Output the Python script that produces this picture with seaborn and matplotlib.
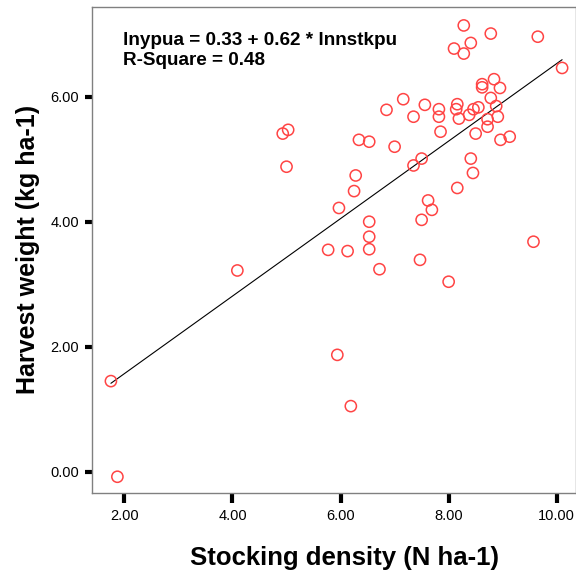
import matplotlib
matplotlib.use("Agg")
import matplotlib.pyplot as plt
import seaborn as sns
import pandas as pd
import numpy as np

stocking = [1.75, 1.87, 4.09, 4.93, 5.03, 5.00, 5.77, 5.94, 6.19, 5.97,
            6.13, 6.25, 6.28, 6.34, 6.53, 6.53, 6.53, 6.53, 6.72, 6.85,
            7.00, 7.16, 7.35, 7.35, 7.47, 7.50, 7.50, 7.56, 7.62, 7.69,
            7.82, 7.82, 7.85, 8.00, 8.10, 8.14, 8.16, 8.16, 8.19, 8.28,
            8.28, 8.38, 8.41, 8.41, 8.45, 8.46, 8.50, 8.55, 8.62, 8.62,
            8.72, 8.72, 8.78, 8.78, 8.84, 8.88, 8.91, 8.95, 8.96, 9.13,
            9.57, 9.65, 10.10]
harvest = [1.45, -0.08, 3.22, 5.41, 5.47, 4.88, 3.55, 1.87, 1.05, 4.22,
           3.53, 4.49, 4.74, 5.31, 5.28, 4.00, 3.76, 3.56, 3.24, 5.79,
           5.20, 5.96, 5.68, 4.90, 3.39, 4.03, 5.01, 5.87, 4.34, 4.19,
           5.80, 5.68, 5.44, 3.04, 6.77, 5.80, 5.88, 4.54, 5.65, 7.14,
           6.69, 5.71, 6.86, 5.01, 4.78, 5.80, 5.41, 5.83, 6.20, 6.15,
           5.64, 5.52, 7.01, 5.98, 6.28, 5.85, 5.68, 6.14, 5.31, 5.36,
           3.68, 6.96, 6.46]

intercept = 0.33
slope = 0.62
r_square = 0.48

x_ticks = [2, 4, 6, 8, 10]
y_ticks = [0, 2, 4, 6]

df = pd.DataFrame({"x": stocking, "y": harvest})

sns.set_style("white")
plt.rcParams["font.family"] = ["Liberation Sans", "DejaVu Sans"]
plt.rcParams["text.color"] = "black"
plt.rcParams["axes.labelcolor"] = "black"
plt.rcParams["xtick.labelcolor"] = "black"
plt.rcParams["ytick.labelcolor"] = "black"

W, H = 576, 574
L, R, T, B = 92, 576, 7, 493
fig = plt.figure(figsize=(W / 100, H / 100), dpi=100)
ax = fig.add_axes([L / W, 1 - B / H, (R - L) / W, (B - T) / H])

sns.scatterplot(data=df, x="x", y="y", ax=ax, marker="o", s=65,
                facecolors="none", edgecolor="#ff4444", linewidth=1.1, zorder=3)

xs = np.linspace(min(stocking), max(stocking), 50)
line_df = pd.DataFrame({"x": xs, "y": intercept + slope * xs})
sns.lineplot(data=line_df, x="x", y="y", ax=ax, color="black", linewidth=0.8, zorder=2)

ax.set_xlim(1.40, 10.357)
ax.set_ylim(-0.34, 7.435)
ax.set_xticks(x_ticks)
ax.set_xticklabels([f"{v:.2f}" for v in x_ticks])
ax.set_yticks(y_ticks)
ax.set_yticklabels([f"{v:.2f}" for v in y_ticks])
ax.tick_params(axis="x", direction="out", length=7, width=3, color="black",
               labelsize=10.5, pad=4.5, bottom=True, labelcolor="black")
ax.tick_params(axis="y", direction="out", length=5, width=3, color="black",
               labelsize=10.5, pad=4.3, left=True, labelcolor="black")

for side in ["left", "bottom", "top", "right"]:
    ax.spines[side].set_color("#808080")
    ax.spines[side].set_linewidth(1.0)

ax.set_xlabel("Stocking density (N ha-1)", fontsize=18.5, fontweight="bold", color="black")
ax.xaxis.label.set_va("baseline")
ax.xaxis.set_label_coords((344 - L) / (R - L), -(565 - B) / (B - T))
ax.set_ylabel("Harvest weight (kg ha-1)", fontsize=18, fontweight="bold", color="black")
ax.yaxis.label.set_va("baseline")
ax.yaxis.set_label_coords((35 - L) / (R - L), (B - 249) / (B - T))

ax.text((123 - L) / (R - L), (B - 45) / (B - T),
        f"lnypua = {intercept:.2f} + {slope:.2f} * lnnstkpu",
        transform=ax.transAxes, fontsize=13.6, fontweight="bold", va="baseline", color="black")
ax.text((123 - L) / (R - L), (B - 65) / (B - T),
        f"R-Square = {r_square:.2f}",
        transform=ax.transAxes, fontsize=13.6, fontweight="bold", va="baseline", color="black")

fig.savefig("out.png", dpi=100)
